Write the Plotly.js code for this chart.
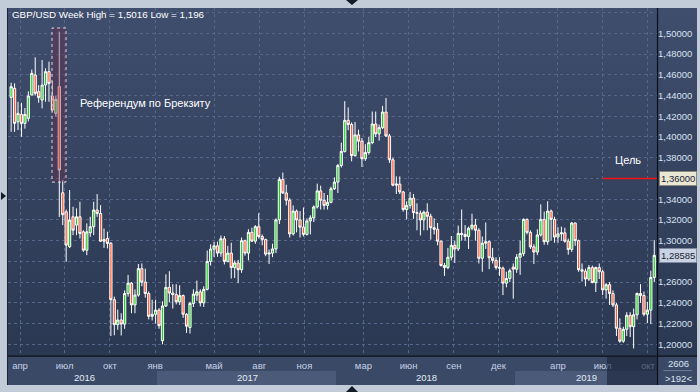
<!DOCTYPE html>
<html><head><meta charset="utf-8">
<script src="https://cdn.plot.ly/plotly-3.0.1.min.js"></script>
<style>
html,body{margin:0;padding:0;background:#c2cbd8;}
#wrap{position:relative;width:700px;height:392px;overflow:hidden;background:#c2cbd8;}
#bgplot{position:absolute;left:8px;top:8px;width:689px;height:348px;background:linear-gradient(#3f4e6d,#2b3852);}
#bgaxis{position:absolute;left:8px;top:356px;width:689px;height:29px;background:#3a4966;}
#chart{position:absolute;left:0;top:0;width:700px;height:392px;}
</style></head>
<body><div id="wrap"><div id="bgplot"></div><div id="bgaxis"></div><div id="chart"></div></div>
<script>
// ---- weekly candles (Monday of each week) ----
const weeks2016 = ['2016-03-14','2016-03-21','2016-03-28','2016-04-04','2016-04-11','2016-04-18','2016-04-25','2016-05-02','2016-05-09','2016-05-16','2016-05-23','2016-05-30','2016-06-06','2016-06-13','2016-06-20','2016-06-27','2016-07-04','2016-07-11','2016-07-18','2016-07-25','2016-08-01','2016-08-08','2016-08-15','2016-08-22','2016-08-29','2016-09-05','2016-09-12','2016-09-19','2016-09-26','2016-10-03','2016-10-10','2016-10-17','2016-10-24','2016-10-31','2016-11-07','2016-11-14','2016-11-21','2016-11-28','2016-12-05','2016-12-12','2016-12-19','2016-12-26'];
const weeks2017 = ['2017-01-02','2017-01-09','2017-01-16','2017-01-23','2017-01-30','2017-02-06','2017-02-13','2017-02-20','2017-02-27','2017-03-06','2017-03-13','2017-03-20','2017-03-27','2017-04-03','2017-04-10','2017-04-17','2017-04-24','2017-05-01','2017-05-08','2017-05-15','2017-05-22','2017-05-29','2017-06-05','2017-06-12','2017-06-19','2017-06-26','2017-07-03','2017-07-10','2017-07-17','2017-07-24','2017-07-31','2017-08-07','2017-08-14','2017-08-21','2017-08-28','2017-09-04','2017-09-11','2017-09-18','2017-09-25','2017-10-02','2017-10-09','2017-10-16','2017-10-23','2017-10-30','2017-11-06','2017-11-13','2017-11-20','2017-11-27','2017-12-04','2017-12-11','2017-12-18','2017-12-25'];
const weeks2018 = ['2018-01-01','2018-01-08','2018-01-15','2018-01-22','2018-01-29','2018-02-05','2018-02-12','2018-02-19','2018-02-26','2018-03-05','2018-03-12','2018-03-19','2018-03-26','2018-04-02','2018-04-09','2018-04-16','2018-04-23','2018-04-30','2018-05-07','2018-05-14','2018-05-21','2018-05-28','2018-06-04','2018-06-11','2018-06-18','2018-06-25','2018-07-02','2018-07-09','2018-07-16','2018-07-23','2018-07-30','2018-08-06','2018-08-13','2018-08-20','2018-08-27','2018-09-03','2018-09-10','2018-09-17','2018-09-24','2018-10-01','2018-10-08','2018-10-15','2018-10-22','2018-10-29','2018-11-05','2018-11-12','2018-11-19','2018-11-26','2018-12-03','2018-12-10','2018-12-17','2018-12-24','2018-12-31'];
const weeks2019 = ['2019-01-07','2019-01-14','2019-01-21','2019-01-28','2019-02-04','2019-02-11','2019-02-18','2019-02-25','2019-03-04','2019-03-11','2019-03-18','2019-03-25','2019-04-01','2019-04-08','2019-04-15','2019-04-22','2019-04-29','2019-05-06','2019-05-13','2019-05-20','2019-05-27','2019-06-03','2019-06-10','2019-06-17','2019-06-24','2019-07-01','2019-07-08','2019-07-15','2019-07-22','2019-07-29','2019-08-05','2019-08-12','2019-08-19','2019-08-26','2019-09-02','2019-09-09','2019-09-16','2019-09-23','2019-09-30','2019-10-07','2019-10-14'];

const open2016 = [1.4382,1.4469,1.4147,1.4218,1.4131,1.4180,1.4405,1.4598,1.4437,1.4356,1.4501,1.4630,1.4395,1.4228,1.4485,1.3462,1.3278,1.2941,1.3230,1.3150,1.3230,1.3085,1.2908,1.3076,1.3134,1.3295,1.3262,1.2995,1.3021,1.2975,1.2430,1.2190,1.2235,1.2195,1.2490,1.2590,1.2380,1.2475,1.2730,1.2600,1.2490,1.2270];
const high2016 = [1.4523,1.4517,1.4340,1.4330,1.4280,1.4440,1.4650,1.4768,1.4500,1.4742,1.4662,1.4726,1.4540,1.4400,1.5016,1.3584,1.3300,1.3488,1.3327,1.3311,1.3375,1.3101,1.3166,1.3230,1.3375,1.3449,1.3343,1.3117,1.3086,1.2985,1.2460,1.2335,1.2300,1.2520,1.2670,1.2600,1.2530,1.2775,1.2780,1.2730,1.2510,1.2430];
const low2016  = [1.4050,1.4050,1.4067,1.4002,1.4080,1.4150,1.4400,1.4400,1.4330,1.4276,1.4340,1.4340,1.4243,1.4195,1.3229,1.3150,1.2796,1.2930,1.3053,1.3053,1.3021,1.2892,1.2860,1.3037,1.3053,1.3230,1.2989,1.2930,1.2925,1.2080,1.2087,1.2140,1.2085,1.2150,1.2460,1.2300,1.2300,1.2460,1.2560,1.2450,1.2240,1.2230];
const close2016= [1.4485,1.4131,1.4228,1.4131,1.4218,1.4395,1.4614,1.4421,1.4380,1.4501,1.4630,1.4517,1.4260,1.4363,1.3681,1.3250,1.2957,1.3198,1.3101,1.3230,1.3069,1.2908,1.3085,1.3134,1.3295,1.3262,1.2995,1.3010,1.2973,1.2430,1.2190,1.2235,1.2195,1.2490,1.2590,1.2380,1.2475,1.2730,1.2600,1.2490,1.2270,1.2290];

const open2017 = [1.2290,1.2330,1.2035,1.2370,1.2550,1.2495,1.2480,1.2410,1.2470,1.2290,1.2162,1.2394,1.2474,1.2506,1.2400,1.2530,1.2800,1.2918,1.2950,1.2880,1.3018,1.2800,1.2880,1.2740,1.2785,1.2720,1.3000,1.2880,1.3080,1.2995,1.3135,1.3040,1.3010,1.2870,1.2880,1.2920,1.3200,1.3590,1.3460,1.3390,1.3065,1.3285,1.3200,1.3130,1.3060,1.3190,1.3220,1.3325,1.3480,1.3390,1.3340,1.3370];
const high2017 = [1.2430,1.2350,1.2415,1.2675,1.2705,1.2580,1.2580,1.2570,1.2480,1.2300,1.2410,1.2530,1.2615,1.2530,1.2560,1.2905,1.2965,1.2990,1.2990,1.3050,1.3045,1.2950,1.2980,1.2810,1.2815,1.3030,1.3010,1.3110,1.3125,1.3150,1.3265,1.3060,1.3020,1.2915,1.2970,1.3215,1.3615,1.3657,1.3540,1.3410,1.3340,1.3300,1.3285,1.3320,1.3215,1.3245,1.3340,1.3550,1.3530,1.3460,1.3440,1.3520];
const low2017  = [1.2200,1.2150,1.2000,1.2360,1.2405,1.2345,1.2385,1.2380,1.2255,1.2110,1.2104,1.2360,1.2420,1.2365,1.2360,1.2520,1.2760,1.2840,1.2845,1.2845,1.2770,1.2790,1.2635,1.2640,1.2590,1.2690,1.2855,1.2810,1.2990,1.2970,1.3020,1.2955,1.2850,1.2775,1.2840,1.2880,1.3160,1.3450,1.3340,1.3030,1.3050,1.3080,1.3030,1.3040,1.3050,1.3060,1.3180,1.3310,1.3300,1.3300,1.3300,1.3360];
const close2017= [1.2330,1.2180,1.2370,1.2550,1.2495,1.2480,1.2410,1.2470,1.2290,1.2175,1.2394,1.2484,1.2506,1.2400,1.2530,1.2800,1.2918,1.2950,1.2880,1.3018,1.2800,1.2880,1.2740,1.2785,1.2720,1.3000,1.2880,1.3080,1.2995,1.3135,1.3040,1.3010,1.2870,1.2880,1.2920,1.3200,1.3590,1.3460,1.3390,1.3065,1.3285,1.3200,1.3130,1.3060,1.3190,1.3220,1.3325,1.3480,1.3390,1.3340,1.3370,1.3500];

const open2018 = [1.3500,1.3565,1.3725,1.3860,1.4160,1.4120,1.3820,1.4020,1.3960,1.3790,1.3850,1.3945,1.4125,1.4030,1.4090,1.4240,1.4010,1.3780,1.3535,1.3545,1.3470,1.3300,1.3340,1.3410,1.3270,1.3265,1.3200,1.3275,1.3235,1.3125,1.3110,1.2995,1.2760,1.2740,1.2840,1.2955,1.2920,1.3070,1.3060,1.3040,1.3120,1.3150,1.3100,1.2830,1.2975,1.2990,1.2835,1.2810,1.2740,1.2735,1.2590,1.2635,1.2745];
const high2018 = [1.3610,1.3740,1.3945,1.4345,1.4285,1.4140,1.4145,1.4070,1.3990,1.3930,1.4000,1.4245,1.4245,1.4120,1.4300,1.4376,1.4030,1.3800,1.3620,1.3620,1.3480,1.3380,1.3470,1.3450,1.3360,1.3290,1.3290,1.3360,1.3260,1.3215,1.3170,1.3000,1.2785,1.2930,1.3045,1.3000,1.3145,1.3300,1.3150,1.3135,1.3260,1.3210,1.3120,1.3040,1.3175,1.3000,1.2930,1.2840,1.2840,1.2750,1.2700,1.2730,1.2780];
const low2018  = [1.3490,1.3460,1.3705,1.3850,1.4065,1.3765,1.3810,1.3860,1.3710,1.3770,1.3830,1.3930,1.4000,1.3965,1.4075,1.4000,1.3750,1.3525,1.3450,1.3450,1.3280,1.3205,1.3310,1.3210,1.3100,1.3050,1.3100,1.3100,1.3010,1.3060,1.2955,1.2750,1.2660,1.2725,1.2810,1.2785,1.2900,1.3000,1.3000,1.2920,1.3100,1.3000,1.2780,1.2700,1.2920,1.2725,1.2780,1.2720,1.2660,1.2475,1.2550,1.2600,1.2440];
const close2018= [1.3565,1.3725,1.3860,1.4160,1.4120,1.3820,1.4020,1.3960,1.3790,1.3850,1.3945,1.4125,1.4030,1.4090,1.4240,1.4010,1.3780,1.3535,1.3545,1.3470,1.3300,1.3340,1.3410,1.3270,1.3265,1.3200,1.3275,1.3235,1.3125,1.3110,1.2995,1.2760,1.2740,1.2840,1.2955,1.2920,1.3070,1.3060,1.3040,1.3120,1.3150,1.3100,1.2830,1.2975,1.2990,1.2835,1.2810,1.2740,1.2735,1.2590,1.2635,1.2710,1.2725];

const open2019 = [1.2725,1.2840,1.2875,1.3205,1.3080,1.2940,1.2890,1.3055,1.3205,1.2990,1.3285,1.3205,1.3035,1.3065,1.3075,1.2995,1.2915,1.3170,1.3000,1.2720,1.2705,1.2630,1.2740,1.2595,1.2740,1.2700,1.2525,1.2575,1.2490,1.2380,1.2155,1.2030,1.2145,1.2280,1.2170,1.2285,1.2490,1.2470,1.2290,1.2330,1.2645];
const high2019 = [1.2870,1.3000,1.3215,1.3215,1.3100,1.2965,1.3110,1.3350,1.3280,1.3380,1.3300,1.3230,1.3130,1.3135,1.3125,1.3020,1.3180,1.3175,1.3010,1.2780,1.2730,1.2765,1.2760,1.2750,1.2780,1.2720,1.2590,1.2600,1.2520,1.2400,1.2250,1.2170,1.2310,1.2310,1.2345,1.2500,1.2580,1.2510,1.2410,1.2710,1.3005];
const low2019  = [1.2690,1.2670,1.2850,1.3060,1.2920,1.2775,1.2860,1.3040,1.2960,1.2960,1.3000,1.2980,1.2980,1.3000,1.2980,1.2865,1.2890,1.2950,1.2700,1.2605,1.2560,1.2610,1.2590,1.2505,1.2630,1.2475,1.2440,1.2380,1.2360,1.2080,1.2015,1.2015,1.2080,1.2070,1.1960,1.2240,1.2400,1.2270,1.2205,1.2195,1.2600];
const close2019= [1.2840,1.2875,1.3205,1.3080,1.2940,1.2890,1.3055,1.3205,1.2990,1.3285,1.3205,1.3035,1.3065,1.3075,1.2995,1.2915,1.3170,1.3000,1.2720,1.2705,1.2630,1.2740,1.2595,1.2740,1.2700,1.2525,1.2575,1.2490,1.2380,1.2155,1.2030,1.2145,1.2280,1.2170,1.2285,1.2490,1.2470,1.2290,1.2330,1.2645,1.28585];

// ---- axis labels ----
// 1,36000 and 1,28000 are covered by the price tags in the reference
const priceTicks = [1.20,1.22,1.24,1.26,1.28,1.30,1.32,1.34,1.36,1.38,1.40,1.42,1.44,1.46,1.48,1.50,1.52];
const priceTickText = ['1,20000','1,22000','1,24000','1,26000','','1,30000','1,32000','1,34000','','1,38000','1,40000','1,42000','1,44000','1,46000','1,48000','1,50000',''];
const monthTicks = ['2016-04-01','2016-07-01','2016-10-01','2017-01-01','2017-05-01','2017-08-01','2017-11-01','2018-03-01','2018-06-01','2018-09-01','2018-12-01','2019-04-01','2019-07-01','2019-10-01'];
const monthText = ['апр','июл','окт','янв','май','авг','ноя','мар','июн','сен','дек','апр','июл','окт'];
const yearLabels = ['2016','2017','2018','2019'];
const yearPos = [0.1186,0.3683,0.6441,0.8921];

const titleText = 'GBP/USD Week High = 1,5016 Low = 1,196';
const eventText = 'Референдум по Брекзиту';
const targetText = 'Цель';
const targetLevel = 1.36;
const targetLabel = '1,36000';
const lastPrice = 1.28585;
const lastLabel = '1,28585';
const infoTop = '2606';
const infoBottom = '>192<';

const x = [].concat(weeks2016, weeks2017, weeks2018, weeks2019);
const o = [].concat(open2016, open2017, open2018, open2019);
const h = [].concat(high2016, high2017, high2018, high2019);
const l = [].concat(low2016, low2017, low2018, low2019);
const c = [].concat(close2016, close2017, close2018, close2019);

const F = 'Liberation Sans, Arial, sans-serif';

const trace = {
  type: 'candlestick', x: x, open: o, high: h, low: l, close: c,
  increasing: {line: {color: '#ffffff', width: 1}, fillcolor: '#1fd21f'},
  decreasing: {line: {color: '#ffffff', width: 1}, fillcolor: '#ff5a34'},
  whiskerwidth: 0, hoverinfo: 'skip', showlegend: false
};

const shapes = [
  // year bands in the date strip
  {type:'rect', xref:'paper', yref:'paper', x0:0.2296, x1:0.5054, y0:-0.0865, y1:-0.0461, fillcolor:'#4b5a79', line:{width:0}, layer:'below'},
  {type:'rect', xref:'paper', yref:'paper', x0:0.7812, x1:1.0, y0:-0.0865, y1:-0.0461, fillcolor:'#4b5a79', line:{width:0}, layer:'below'},
  // darker box at right end of date strip
  {type:'rect', xref:'paper', yref:'paper', x0:0.9230, x1:1.0, y0:-0.0865, y1:-0.004, fillcolor:'rgba(26,36,56,0.62)', line:{width:0}, layer:'above'},
  // Brexit box
  {type:'rect', xref:'paper', yref:'y', x0:0.0678, x1:0.0894, y0:1.3565, y1:1.5051, fillcolor:'rgba(110,40,70,0.35)', line:{color:'#e8d2e2', width:1, dash:'dot'}, layer:'above'},
  // target line
  {type:'line', xref:'paper', yref:'y', x0:0.9168, x1:1.0, y0:targetLevel, y1:targetLevel, line:{color:'#ff1010', width:1.6}, layer:'above'},
  // separators
  {type:'line', xref:'paper', yref:'paper', x0:0, x1:1.0616, y0:-0.003, y1:-0.003, line:{color:'#0c1018', width:1.2}},
  {type:'line', xref:'paper', yref:'paper', x0:1.0008, x1:1.0008, y0:1.0, y1:-0.0865, line:{color:'#0c1018', width:1.2}},
  {type:'line', xref:'paper', yref:'paper', x0:-0.0008, x1:-0.0008, y0:1.0, y1:-0.0865, line:{color:'#1a2232', width:1}},
  {type:'line', xref:'paper', yref:'paper', x0:1.0100, x1:1.0540, y0:-0.045, y1:-0.045, line:{color:'#6d7b98', width:1}},
  // small triangles
  {type:'path', xref:'paper', yref:'paper', path:'M -0.0108 0.4697 L -0.0031 0.4582 L -0.0108 0.4467 Z', fillcolor:'#141a26', line:{width:0}},
  {type:'path', xref:'paper', yref:'paper', path:'M 0.5208 1.0231 L 0.5393 1.0231 L 0.5300 1.0086 Z', fillcolor:'#141a26', line:{width:0}},
  {type:'path', xref:'paper', yref:'paper', path:'M 0.5208 -0.1066 L 0.5393 -0.1066 L 0.5300 -0.0893 Z', fillcolor:'#141a26', line:{width:0}},
  // price tag pointers
  {type:'path', xref:'paper', yref:'paper', path:'M 1.0046 0.5143 L 1.0108 0.5257 L 1.0108 0.5029 Z', fillcolor:'#e9e6d4', line:{color:'#8a8878', width:1}},
  {type:'path', xref:'paper', yref:'paper', path:'M 1.0046 0.2879 L 1.0108 0.2993 L 1.0108 0.2765 Z', fillcolor:'#c9d2e2', line:{color:'#7f8aa0', width:1}}
];

const annotations = [
  {xref:'paper', yref:'paper', x:0.0031, y:0.9827, xanchor:'left', yanchor:'middle', text:titleText, showarrow:false, font:{family:F, size:9.8, color:'#ffffff'}},
  {xref:'paper', yref:'paper', x:0.1079, y:0.7271, xanchor:'left', yanchor:'middle', text:eventText, showarrow:false, font:{family:F, size:11, color:'#ffffff'}},
  {xref:'paper', yref:'paper', x:0.9553, y:0.5620, xanchor:'center', yanchor:'middle', text:targetText, showarrow:false, font:{family:F, size:11, color:'#ffffff'}},
  {xref:'paper', yref:'y', x:1.0324, y:targetLevel, xanchor:'center', yanchor:'middle', text:targetLabel, showarrow:false, font:{family:F, size:9.5, color:'#1b2233'}, bgcolor:'#e9e6d4', bordercolor:'#8a8878', borderwidth:1, borderpad:1},
  {xref:'paper', yref:'y', x:1.0324, y:lastPrice, xanchor:'center', yanchor:'middle', text:lastLabel, showarrow:false, font:{family:F, size:9.5, color:'#1b2233'}, bgcolor:'#c9d2e2', bordercolor:'#7f8aa0', borderwidth:1, borderpad:1},
  {xref:'paper', yref:'paper', x:1.0324, y:-0.0259, xanchor:'center', yanchor:'middle', text:infoTop, showarrow:false, font:{family:F, size:9.5, color:'#dde5f3'}},
  {xref:'paper', yref:'paper', x:1.0324, y:-0.0663, xanchor:'center', yanchor:'middle', text:infoBottom, showarrow:false, font:{family:F, size:9.5, color:'#dde5f3'}}
];
yearLabels.forEach((t, i) => annotations.push({xref:'paper', yref:'paper', x:yearPos[i], y:-0.0650, xanchor:'center', yanchor:'middle', text:t, showarrow:false, font:{family:F, size:9.5, color:'#e2e9f6'}}));

const layout = {
  width: 700, height: 392,
  margin: {l: 8, r: 43, t: 8, b: 37, pad: 0},
  paper_bgcolor: 'rgba(0,0,0,0)', plot_bgcolor: 'rgba(0,0,0,0)',
  showlegend: false, hovermode: false, dragmode: false,
  boxgap: 0.08,
  xaxis: {
    type: 'date', range: ['2016-03-07 14:00', '2019-10-19 14:00'],
    rangeslider: {visible: false}, fixedrange: true,
    tickmode: 'array', tickvals: monthTicks, ticktext: monthText,
    tickfont: {family: F, size: 9.5, color: '#c6d1e6'}, ticks: '', ticklen: 0,
    ticklabelstandoff: 3,
    showgrid: true, gridcolor: '#56658a', griddash: '3px,3px', gridwidth: 1,
    zeroline: false, showline: false
  },
  yaxis: {
    side: 'right', range: [1.1897, 1.5244], fixedrange: true,
    tickmode: 'array', tickvals: priceTicks, ticktext: priceTickText,
    tickfont: {family: F, size: 9.5, color: '#d8e1f1'}, ticks: '', ticklen: 0,
    showgrid: true, gridcolor: '#56658a', griddash: '3px,3px', gridwidth: 1,
    zeroline: false, showline: false
  },
  shapes: shapes, annotations: annotations
};

Plotly.newPlot('chart', [trace], layout, {staticPlot: true, displayModeBar: false});
</script></body></html>
